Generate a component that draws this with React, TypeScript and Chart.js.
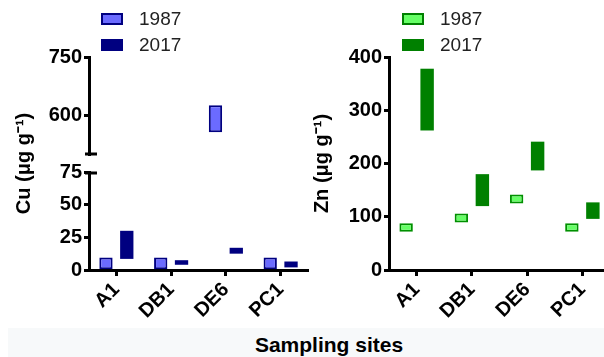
import React, { useEffect, useRef } from 'react';
import { Chart, registerables } from 'chart.js';
Chart.register(...registerables);

const categories = ['A1', 'DB1', 'DE6', 'PC1'];
const seriesNames = ['1987', '2017'];
// Cu (µg g-1) ranges [min, max]; null = value shown on the other axis segment
const cu1987Low = [[0.5, 9.5], [0.5, 9.5], null, [0.5, 9.5]];
const cu1987High = [null, null, [558, 627], null];
const cu2017 = [[8.5, 30], [4, 7.5], [12.5, 17], [2, 6.5]];
// Zn (µg g-1) ranges [min, max]
const zn1987 = [[72, 88], [89, 106], [125, 142], [72, 88]];
const zn2017 = [[262, 378], [120, 180], [187, 241], [96, 127]];
// axis ticks
const cuLowTicks = [0, 25, 50, 75];
const cuHighTicks = [600, 750];
const znTicks = [0, 100, 200, 300, 400];

const FONT = '"Liberation Sans", Arial, Helvetica, sans-serif';
const CU_LIGHT = '#6b6bff';
const CU_DARK = '#000080';
const ZN_LIGHT = '#66ff66';
const ZN_BORDER = '#009000';
const ZN_DARK = '#008000';

const tickFont = { family: FONT, size: 20, weight: 'bold' as const };

const xScale = () => ({
  type: 'category' as const,
  offset: true,
  grid: {
    display: true,
    drawOnChartArea: false,
    drawTicks: true,
    tickLength: 6,
    tickWidth: 3,
    tickColor: '#000',
    offset: false,
  },
  border: { display: true, width: 3, color: '#000' },
  ticks: {
    color: '#000',
    font: tickFont,
    minRotation: 45,
    maxRotation: 45,
    padding: 2,
    autoSkip: false,
  },
  afterFit: (s: any) => {
    s.height = 60;
  },
});

const yScale = (min: number, max: number, tickValues: number[], extra: any = {}) => ({
  type: 'linear' as const,
  position: 'left' as const,
  min,
  max,
  stacked: false,
  grid: {
    display: true,
    drawOnChartArea: false,
    drawTicks: true,
    tickLength: 5,
    tickWidth: 3,
    tickColor: '#000',
  },
  border: { display: true, width: 3, color: '#000' },
  ticks: { color: '#000', font: tickFont, padding: 2, autoSkip: false },
  afterBuildTicks: (s: any) => {
    s.ticks = tickValues.map((v) => ({ value: v }));
  },
  afterFit: (s: any) => {
    s.width = 89;
  },
  ...extra,
});

const barCommon = {
  categoryPercentage: 0.76,
  barPercentage: 0.64,
  borderSkipped: false as const,
  skipNull: true,
};

const breakCaps = {
  id: 'breakCaps',
  afterDraw(chart: any) {
    const hi = chart.scales.yHigh;
    const lo = chart.scales.yLow;
    if (!hi || !lo) return;
    const ctx = chart.ctx;
    const x = chart.chartArea.left;
    ctx.save();
    ctx.strokeStyle = '#000';
    ctx.lineWidth = 3;
    [hi.bottom - 1, lo.top + 1].forEach((y: number) => {
      ctx.beginPath();
      ctx.moveTo(x - 4, y);
      ctx.lineTo(x + 8, y);
      ctx.stroke();
    });
    ctx.restore();
  },
};

function LegendBox({ light, dark, filled }: { light: string; dark: string; filled: boolean }) {
  return (
    <div
      style={{
        width: 22,
        height: 12,
        boxSizing: 'border-box',
        border: `2px solid ${dark}`,
        background: filled ? dark : light,
      }}
    />
  );
}

function Legend({ left, light, dark }: { left: number; light: string; dark: string }) {
  return (
    <div style={{ position: 'absolute', left, top: 6, fontFamily: FONT, fontSize: 19, color: '#222' }}>
      {seriesNames.map((name, i) => (
        <div key={name} style={{ display: 'flex', alignItems: 'center', height: 26 }}>
          <LegendBox light={light} dark={dark} filled={i === 1} />
          <span style={{ marginLeft: 16, lineHeight: '26px' }}>{name}</span>
        </div>
      ))}
    </div>
  );
}

export default function App() {
  const cuRef = useRef<HTMLCanvasElement>(null);
  const znRef = useRef<HTMLCanvasElement>(null);

  useEffect(() => {
    const cuChart = new Chart(cuRef.current as HTMLCanvasElement, {
      type: 'bar',
      data: {
        labels: categories,
        datasets: [
          { label: seriesNames[0], data: cu1987Low as any, yAxisID: 'yLow', backgroundColor: CU_LIGHT, borderColor: CU_DARK, borderWidth: 2, ...barCommon },
          { label: seriesNames[0], data: cu1987High as any, yAxisID: 'yHigh', backgroundColor: CU_LIGHT, borderColor: CU_DARK, borderWidth: 2, ...barCommon },
          { label: seriesNames[1], data: cu2017 as any, yAxisID: 'yLow', backgroundColor: CU_DARK, borderColor: CU_DARK, borderWidth: 0, ...barCommon },
        ],
      },
      options: {
        animation: false,
        responsive: true,
        maintainAspectRatio: false,
        layout: { padding: { top: 57, right: 4, left: 0, bottom: 0 } },
        plugins: { legend: { display: false }, tooltip: { enabled: false } },
        scales: {
          x: xScale(),
          yLow: yScale(0, 75, cuLowTicks, { stack: 'cu', stackWeight: 98, weight: 1 }),
          yGap: {
            type: 'linear',
            position: 'left',
            stack: 'cu',
            stackWeight: 17,
            weight: 2,
            display: true,
            grid: { display: false },
            border: { display: false },
            ticks: { display: false },
            title: {
              display: true,
              text: 'Cu (μg g⁻¹)',
              color: '#000',
              font: { family: FONT, size: 20, weight: 'bold' },
              padding: { top: 12, bottom: 0 },
            },
            afterFit: (s: any) => {
              s.width = 89;
            },
          },
          yHigh: yScale(500, 750, cuHighTicks, { stack: 'cu', stackWeight: 98, weight: 3 }),
        } as any,
      },
      plugins: [breakCaps],
    });

    const znChart = new Chart(znRef.current as HTMLCanvasElement, {
      type: 'bar',
      data: {
        labels: categories,
        datasets: [
          { label: seriesNames[0], data: zn1987 as any, backgroundColor: ZN_LIGHT, borderColor: ZN_BORDER, borderWidth: 2, ...barCommon },
          { label: seriesNames[1], data: zn2017 as any, backgroundColor: ZN_DARK, borderColor: ZN_DARK, borderWidth: 0, ...barCommon },
        ],
      },
      options: {
        animation: false,
        responsive: true,
        maintainAspectRatio: false,
        layout: { padding: { top: 57, right: 4, left: 0, bottom: 0 } },
        plugins: { legend: { display: false }, tooltip: { enabled: false } },
        scales: {
          x: xScale(),
          y: yScale(0, 400, znTicks, {
            title: {
              display: true,
              text: 'Zn (μg g⁻¹)',
              color: '#000',
              font: { family: FONT, size: 20, weight: 'bold' },
              padding: { top: 10, bottom: 0 },
            },
          }),
        } as any,
      },
    });

    return () => {
      cuChart.destroy();
      znChart.destroy();
    };
  }, []);

  return (
    <div
      style={{
        position: 'absolute',
        left: 0,
        top: 0,
        width: 604,
        height: 357,
        overflow: 'hidden',
        background: '#fff',
      }}
    >
      <div style={{ position: 'absolute', left: 8, top: 328, width: 596, height: 29, background: '#f7f9fa' }} />
      <div style={{ position: 'absolute', left: 0, top: 0, width: 312, height: 330 }}>
        <canvas ref={cuRef} />
      </div>
      <div style={{ position: 'absolute', left: 300, top: 0, width: 314, height: 330 }}>
        <canvas ref={znRef} />
      </div>
      <Legend left={101} light={CU_LIGHT} dark={CU_DARK} />
      <Legend left={402} light={ZN_LIGHT} dark={ZN_DARK} />
      <div
        style={{
          position: 'absolute',
          left: 229,
          top: 334,
          width: 200,
          textAlign: 'center',
          fontFamily: FONT,
          fontWeight: 'bold',
          fontSize: 21,
          lineHeight: '21px',
          color: '#000',
        }}
      >
        Sampling sites
      </div>
    </div>
  );
}
